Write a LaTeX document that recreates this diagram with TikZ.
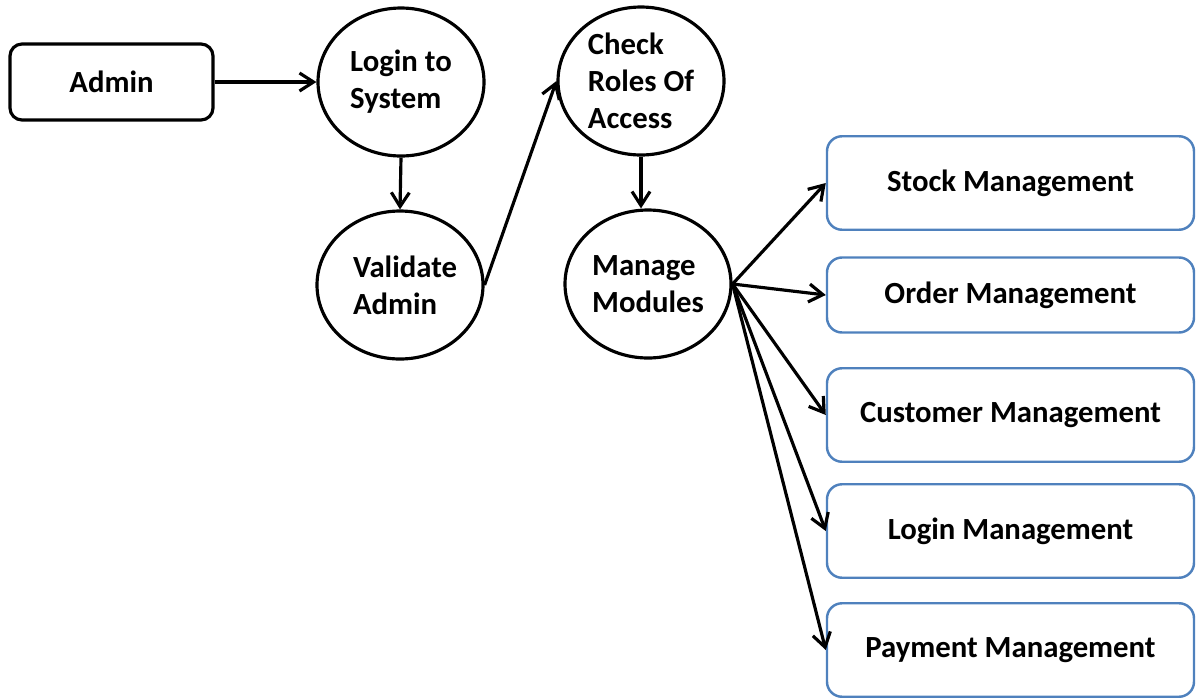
\documentclass[tikz,border=0pt]{standalone}
\usepackage{fontspec}
\setmainfont{Carlito}
\usetikzlibrary{shapes.geometric,arrows.meta}
\definecolor{boxblue}{RGB}{79,129,189}
\begin{document}
\begin{tikzpicture}[
    font=\fontsize{17.5}{21}\selectfont\bfseries,
    proc/.style={draw, line width=1.8pt, ellipse, inner sep=0pt, minimum width=3.32cm, minimum height=2.96cm, align=left},
    modbox/.style={draw=boxblue, line width=1.4pt, rounded corners=0.3cm, minimum width=7.34cm, minimum height=1.87cm},
    flow/.style={line width=1.8pt, -{Straight Barb[length=2.8mm,width=3.6mm]}}
  ]
  \useasboundingbox (0,0) rectangle (23.92,-13.96);

  % Akteur und Ablauf
  \node[draw, line width=1.8pt, rounded corners=0.24cm, minimum width=4.06cm, minimum height=1.52cm] (admin) at (2.23,-1.64) {Admin};
  \node[proc] (login) at (8.02,-1.64) {Login to\\System};
  \node[proc] (valid) at (8.0,-5.7) {\hspace*{0.2cm}Validate\\\hspace*{0.2cm}Admin};
  \node[proc] (roles) at (12.82,-1.62) {Check\\Roles Of\\Access};
  \node[proc] (modules) at (12.96,-5.68) {Manage\\Modules};

  % Module
  \node[modbox] (stock) at (20.21,-3.66) {Stock Management};
  \node[modbox, minimum height=1.5cm] (order) at (20.21,-5.9) {Order Management};
  \node[modbox] (customer) at (20.21,-8.3) {Customer Management};
  \node[modbox] (loginmgmt) at (20.21,-10.62) {Login Management};
  \node[modbox] (payment) at (20.21,-13.0) {Payment Management};

  % Pfeile
  \draw[flow] (admin.east) -- (login.west);
  \draw[flow] (login.south) -- (valid.north);
  \draw[flow] (valid.east) -- (roles.west);
  \draw[flow] (roles.south) -- (roles.south |- modules.north);
  \foreach \m in {stock, order, customer, loginmgmt, payment}
    \draw[flow] (modules.east) -- (\m.west);
\end{tikzpicture}
\end{document}
